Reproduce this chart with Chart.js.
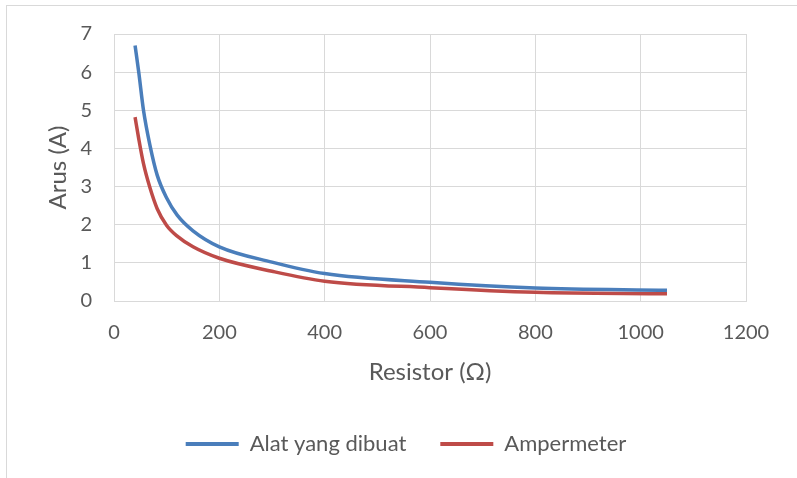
<!DOCTYPE html>
<html>
<head>
<meta charset="utf-8">
<script src="https://cdn.jsdelivr.net/npm/chart.js@4.4.0/dist/chart.umd.min.js"></script>
<style>
  html, body { margin: 0; padding: 0; background: #fff; }
  #frame { position: absolute; left: 6px; top: 5px; width: 800px; height: 480px; border: 1px solid #d9d9d9; }
  #wrap { position: absolute; left: 0; top: 0; width: 797px; height: 478px; }
</style>
</head>
<body>
<div id="frame"></div>
<div id="wrap"><canvas id="chart"></canvas></div>
<script>
const resistor = [40, 47, 56, 68, 82, 100, 120, 150, 200, 300, 400, 600, 800, 1050];
const alatYangDibuat = [6.7, 6.0, 5.0, 4.1, 3.3, 2.7, 2.25, 1.84, 1.42, 1.02, 0.72, 0.49, 0.34, 0.28];
const ampermeter = [4.82, 4.25, 3.6, 2.98, 2.42, 1.98, 1.7, 1.42, 1.12, 0.78, 0.52, 0.35, 0.23, 0.19];

const BLUE = '#4a7ebb';
const RED = '#be4b48';
const FONT = 'Lato';
const TEXT = '#595959';

function toPoints(xs, ys) {
    return xs.map((x, i) => ({ x: x, y: ys[i] }));
}

new Chart(document.getElementById('chart'), {
    type: 'line',
    data: {
        datasets: [{
            label: 'Alat yang dibuat',
            data: toPoints(resistor, alatYangDibuat),
            borderColor: BLUE,
            backgroundColor: BLUE,
            borderWidth: 3.5,
            pointRadius: 0,
            cubicInterpolationMode: 'monotone'
        }, {
            label: 'Ampermeter',
            data: toPoints(resistor, ampermeter),
            borderColor: RED,
            backgroundColor: RED,
            borderWidth: 3.5,
            pointRadius: 0,
            cubicInterpolationMode: 'monotone'
        }]
    },
    options: {
        responsive: true,
        maintainAspectRatio: false,
        animation: false,
        layout: { padding: { left: 44, right: 29, top: 34, bottom: 13 } },
        plugins: {
            tooltip: { enabled: false },
            legend: {
                position: 'bottom',
                labels: {
                    color: TEXT,
                    font: { family: FONT, size: 22 },
                    boxWidth: 53,
                    boxHeight: 4,
                    padding: 34,
                    generateLabels: function(chart) {
                        const items = Chart.defaults.plugins.legend.labels.generateLabels(chart);
                        items.forEach(it => { it.lineWidth = 0; });
                        return items;
                    }
                }
            }
        },
        scales: {
            x: {
                type: 'linear',
                min: 0,
                max: 1200,
                ticks: {
                    stepSize: 200,
                    color: TEXT,
                    font: { family: FONT, size: 20 },
                    padding: 20,
                    callback: v => String(v)
                },
                grid: { color: '#d9d9d9', drawTicks: false },
                border: { color: '#d9d9d9' },
                title: {
                    display: true,
                    text: 'Resistor (Ω)',
                    color: TEXT,
                    font: { family: FONT, size: 24 },
                    padding: { top: 0, bottom: 12 }
                },
                afterFit: function(scale) { scale.height = 98; }
            },
            y: {
                min: 0,
                max: 7,
                ticks: {
                    stepSize: 1,
                    color: TEXT,
                    font: { family: FONT, size: 20 },
                    padding: 22,
                    callback: v => String(v)
                },
                grid: { color: '#d9d9d9', drawTicks: false },
                border: { color: '#d9d9d9' },
                title: {
                    display: true,
                    text: 'Arus (A)',
                    color: TEXT,
                    font: { family: FONT, size: 24 },
                    padding: { top: 0, bottom: 0 }
                },
                afterFit: function(scale) { scale.width = 70; }
            },
            // empty right-hand axis, only keeps the plot edge where the reference has it
            yRight: {
                position: 'right',
                min: 0,
                max: 7,
                ticks: { display: false },
                grid: { display: false },
                border: { display: false },
                afterFit: function(scale) { scale.width = 22; }
            }
        }
    }
});
</script>
</body>
</html>
